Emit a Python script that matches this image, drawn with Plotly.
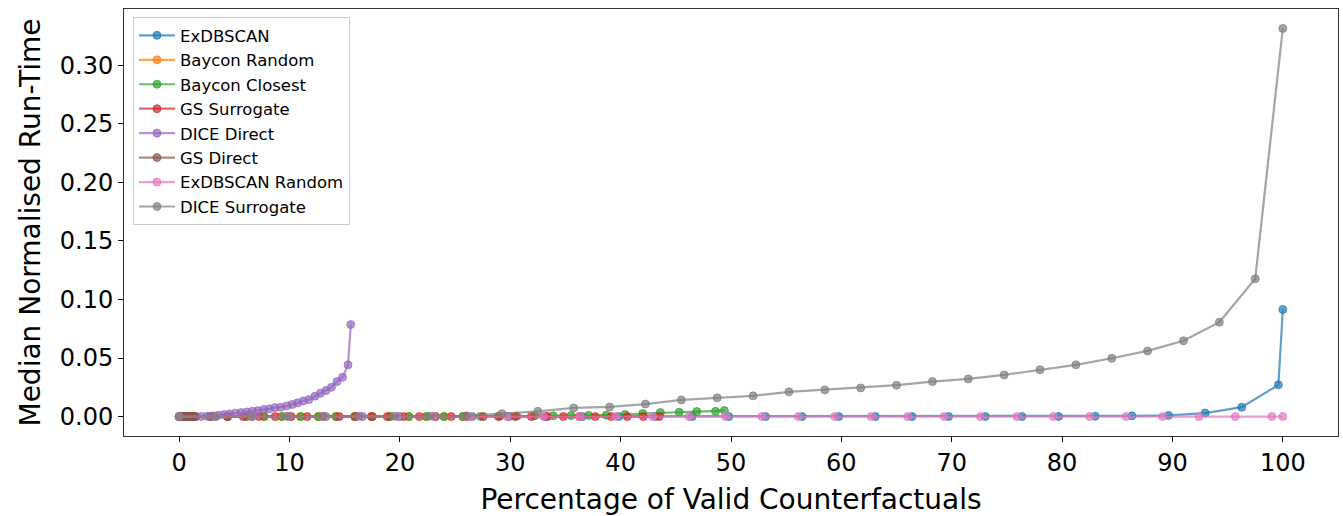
import plotly.graph_objects as go

# ---- data ----
exdbscan_x = [0.0, 3.32, 6.64, 9.96, 13.28, 16.6, 19.92, 23.24, 26.56, 29.88, 33.2, 36.52, 39.84,
              43.16, 46.48, 49.8, 53.12, 56.44, 59.76, 63.08, 66.4, 69.72, 73.04, 76.36, 79.68,
              83.0, 86.32, 89.64, 92.96, 96.28, 99.6, 100.0]
exdbscan_y = [0, 0, 0, 0, 0, 0, 0, 0, 0, 0, 0, 0, 0, 0, 0, 0, 0, 0, 0, 0, 0, 0, 0, 0, 0.0001,
              0.0002, 0.0006, 0.001, 0.003, 0.008, 0.0271, 0.0915]

baycon_random_x = [0.0, 1.2, 2.8, 4.4, 6.1, 7.7, 9.3, 11.0, 12.6, 14.2, 15.9, 17.5, 19.1, 20.8,
                   22.4, 24.0, 25.7]
baycon_random_y = [0, 0, 0, 0, 0, 0, 0, 0, 0, 0, 0, 0, 0, 0, 0, 0, 0]

baycon_closest_x = [0.0, 1.2, 2.8, 4.4, 6.1, 7.7, 9.3, 11.0, 12.6, 14.2, 15.9, 17.5, 19.1, 20.8,
                    22.4, 24.0, 25.7, 27.3, 28.9, 30.6, 32.2, 33.9, 35.5, 37.1, 38.7, 40.4, 42.0,
                    43.6, 45.3, 46.9, 48.6, 49.4]
baycon_closest_y = [0, 0, 0, 0, 0, 0, 0, 0, 0, 0, 0, 0, 0, 0, 0, 0, 0, 0.0001, 0.0002, 0.0004,
                    0.0005, 0.0007, 0.0009, 0.001, 0.0012, 0.0017, 0.0026, 0.0034, 0.0037, 0.0043,
                    0.0045, 0.0051]

gs_surrogate_x = [0.0, 1.45, 2.9, 4.35, 5.8, 7.25, 8.7, 10.15, 11.6, 13.05, 14.5, 15.95, 17.4,
                  18.85, 20.3, 21.75, 23.2, 24.65, 26.1, 27.55, 29.0, 30.45, 31.9, 33.35, 34.8,
                  36.25, 37.7, 39.15, 40.6, 42.05, 43.5]
gs_surrogate_y = [0, 0, 0, 0, 0, 0, 0, 0, 0, 0, 0, 0, 0, 0, 0, 0, 0, 0, 0, 0, 0, 0,
                  0, 0, 0, 0, 0, 0, 0, 0, 0]

dice_direct_x = [0.0, 0.5, 1.0, 1.5, 2.0, 2.53, 3.04, 3.55, 4.07, 4.58, 5.1, 5.6, 6.12, 6.63,
                 7.14, 7.66, 8.17, 8.68, 9.2, 9.74, 10.25, 10.73, 11.24, 11.75, 12.3, 12.8, 13.3,
                 13.8, 14.3, 14.8, 15.3, 15.55]
dice_direct_y = [0, 0, 0, 0, 0.0001, 0.0003, 0.0006, 0.0011, 0.0017, 0.0023, 0.0028, 0.0034,
                 0.004, 0.0045, 0.0051, 0.006, 0.0066, 0.0077, 0.008, 0.0091, 0.0103, 0.0117,
                 0.0134, 0.0145, 0.0174, 0.02, 0.0222, 0.025, 0.0299, 0.0336, 0.0442, 0.0786]

gs_direct_x = [0.0, 0.1, 0.2, 0.3, 0.4, 0.5, 0.6, 0.7, 0.8, 0.9, 1.0, 1.1, 1.2, 1.3, 1.4]
gs_direct_y = [0, 0, 0, 0, 0, 0, 0, 0, 0, 0, 0, 0, 0, 0, 0]

exdbscan_random_x = [0.0, 3.3, 6.6, 9.9, 13.2, 16.5, 19.8, 23.1, 26.4, 29.7, 33.0, 36.3, 39.6,
                     42.9, 46.2, 49.5, 52.8, 56.1, 59.4, 62.7, 66.0, 69.3, 72.6, 75.9, 79.2,
                     82.5, 85.8, 89.1, 92.4, 95.7, 99.0, 100.0]
exdbscan_random_y = [0, 0, 0, 0, 0, 0, 0, 0, 0, 0, 0, 0, 0, 0, 0, 0, 0, 0, 0, 0, 0, 0,
                     0, 0, 0, 0, 0, 0, 0, 0, 0, 0]

dice_surrogate_x = [0.0, 3.25, 6.5, 9.75, 13.0, 16.25, 19.5, 22.75, 26.0, 29.25, 32.5, 35.75,
                    39.0, 42.25, 45.5, 48.75, 52.0, 55.25, 58.5, 61.75, 65.0, 68.25, 71.5, 74.75,
                    78.0, 81.25, 84.5, 87.75, 91.0, 94.25, 97.5, 100.0]
dice_surrogate_y = [0, 0.0002, 0.0002, 0.0003, 0.0003, 0.0003, 0.0003, 0.0004, 0.0006, 0.0025,
                    0.0045, 0.0074, 0.0082, 0.0107, 0.0142, 0.016, 0.0177, 0.0211, 0.0228,
                    0.0245, 0.0268, 0.0299, 0.0322, 0.0356, 0.040, 0.0442, 0.0498, 0.0561,
                    0.0647, 0.0806, 0.1177, 0.3316]

x_ticks = [0, 10, 20, 30, 40, 50, 60, 70, 80, 90, 100]
y_ticks = [0, 0.05, 0.10, 0.15, 0.20, 0.25, 0.30]

series = [
    ("ExDBSCAN", exdbscan_x, exdbscan_y, (31, 119, 180)),
    ("Baycon Random", baycon_random_x, baycon_random_y, (255, 127, 14)),
    ("Baycon Closest", baycon_closest_x, baycon_closest_y, (44, 160, 44)),
    ("GS Surrogate", gs_surrogate_x, gs_surrogate_y, (214, 39, 40)),
    ("DICE Direct", dice_direct_x, dice_direct_y, (148, 103, 189)),
    ("GS Direct", gs_direct_x, gs_direct_y, (140, 86, 75)),
    ("ExDBSCAN Random", exdbscan_random_x, exdbscan_random_y, (227, 119, 194)),
    ("DICE Surrogate", dice_surrogate_x, dice_surrogate_y, (127, 127, 127)),
]

fig = go.Figure()
for name, xs, ys, (r, g, b) in series:
    c = f"rgba({r},{g},{b},0.7)"
    fig.add_trace(go.Scatter(
        x=xs, y=ys, name=name, mode="lines+markers",
        line=dict(color=c, width=2.2),
        marker=dict(size=8, color=c, line=dict(color=c, width=1)),
    ))

font = "DejaVu Sans"
fig.update_layout(
    width=1343, height=516,
    margin=dict(l=124, r=5, t=9, b=80),
    paper_bgcolor="white", plot_bgcolor="white",
    font=dict(family=font, color="black"),
    legend=dict(
        x=0.0074, y=0.981, xanchor="left", yanchor="top",
        bgcolor="rgba(255,255,255,0.8)", bordercolor="#cccccc", borderwidth=1,
        font=dict(family=font, size=16.5, color="black"),
        tracegroupgap=0, itemwidth=36,
    ),
    showlegend=True,
)
fig.update_xaxes(
    range=[-5, 105], tickmode="array", tickvals=x_ticks,
    ticks="outside", ticklen=5, tickwidth=1, tickcolor="black",
    tickfont=dict(size=24, family=font),
    showgrid=False, zeroline=False,
    showline=True, linecolor="#333333", linewidth=1, mirror=True,
    title=dict(text="Percentage of Valid Counterfactuals", font=dict(size=28, family=font), standoff=16),
)
fig.update_yaxes(
    range=[-0.0166, 0.3482], tickmode="array", tickvals=y_ticks,
    tickformat=".2f",
    ticks="outside", ticklen=5, tickwidth=1, tickcolor="black",
    tickfont=dict(size=24, family=font),
    showgrid=False, zeroline=False,
    showline=True, linecolor="#333333", linewidth=1, mirror=True,
    title=dict(text="Median Normalised Run-Time", font=dict(size=28, family=font), standoff=10),
)

fig.write_html("out.html")
